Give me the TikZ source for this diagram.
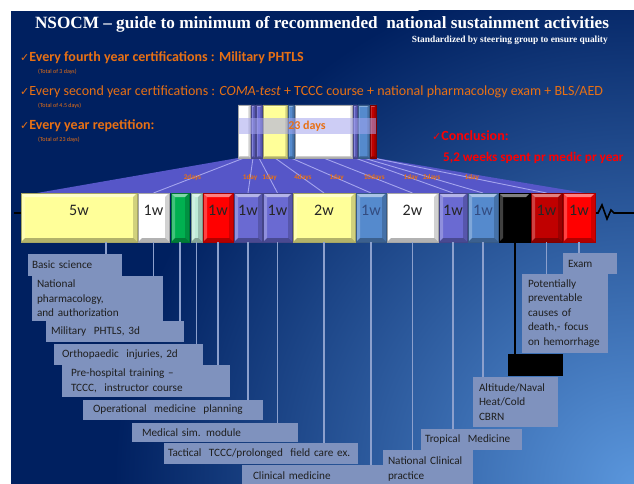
\documentclass[tikz,border=0pt]{standalone}
\usepackage{fontspec}
\setmainfont{Carlito}
\newfontfamily\headfont{Liberation Serif}
\newfontfamily\symfont{DejaVu Sans}
\usetikzlibrary{arrows.meta}

\definecolor{navy}{RGB}{0,32,96}
\definecolor{glow}{RGB}{90,150,220}
\definecolor{orangec}{RGB}{232,112,20}
\definecolor{redc}{RGB}{255,0,0}
\definecolor{byellow}{RGB}{255,255,153}
\definecolor{bgreen}{RGB}{0,176,80}
\definecolor{bmint}{RGB}{190,235,215}
\definecolor{bpurple}{RGB}{106,106,210}
\definecolor{bsteel}{RGB}{85,138,205}
\definecolor{bdred}{RGB}{192,0,0}
\definecolor{trapc}{RGB}{86,86,200}
\definecolor{rayc}{RGB}{165,165,238}
\definecolor{labc}{RGB}{127,146,190}
\definecolor{linec}{RGB}{140,160,205}

\pgfdeclarelayer{slide}
\pgfdeclarelayer{fan}
\pgfsetlayers{slide,fan,main}

\newcommand{\chk}{{\symfont\fontsize{11}{11}\selectfont ✓}}

\tikzset{
  bevel/.style={path picture={
    \path (path picture bounding box.north west) coordinate (bvNW)
          (path picture bounding box.north east) coordinate (bvNE)
          (path picture bounding box.south west) coordinate (bvSW)
          (path picture bounding box.south east) coordinate (bvSE);
    \fill[white,opacity=.5] (bvNW) -- (bvNE) -- ([shift={(-#1,-#1)}]bvNE) -- ([shift={(#1,-#1)}]bvNW) -- cycle;
    \fill[white,opacity=.25] (bvNW) -- (bvSW) -- ([shift={(#1,#1)}]bvSW) -- ([shift={(#1,-#1)}]bvNW) -- cycle;
    \fill[black,opacity=.3] (bvSW) -- (bvSE) -- ([shift={(-#1,#1)}]bvSE) -- ([shift={(#1,#1)}]bvSW) -- cycle;
    \fill[black,opacity=.18] (bvNE) -- (bvSE) -- ([shift={(-#1,#1)}]bvSE) -- ([shift={(-#1,-#1)}]bvNE) -- cycle;
  }},
  bevel/.default=4pt,
  wk/.style={draw=#1!65!black, line width=.6pt, fill=#1, bevel=4pt,
    minimum height=49pt, anchor=north west, inner sep=0pt, outer sep=0pt,
    text height=11pt, text depth=16pt, font=\fontsize{16}{16}\selectfont, text=black!85},
  mini/.style={draw=#1!65!black, line width=.4pt, fill=#1, bevel=1.6pt,
    minimum height=53pt, anchor=north west, inner sep=0pt, outer sep=0pt},
  lab/.style={fill=labc, anchor=north west, inner ysep=0pt, outer sep=0pt,
    align=left, font=\fontsize{11.2}{14.5}\selectfont, text=black!88},
  conn/.style={draw=linec, line width=1.4pt},
  ray/.style={draw=rayc, line width=.9pt},
  daylab/.style={font=\bfseries\fontsize{7.2}{8}\selectfont, text=orangec, inner sep=0pt},
  orline/.style={anchor=base west, text=orangec, font=\bfseries\fontsize{14}{14}\selectfont, inner sep=0pt},
  ornote/.style={anchor=base west, text=orangec, font=\fontsize{6}{6}\selectfont, inner sep=0pt},
  redline/.style={anchor=base west, text=redc, font=\bfseries\fontsize{14}{14}\selectfont, inner sep=0pt},
}

\begin{document}
\begin{tikzpicture}[x=1pt,y=-1pt]
\useasboundingbox (0,0) rectangle (634,484);

% slide background: navy with a lighter glow towards the lower right
\begin{pgfonlayer}{slide}
  \fill[white] (0,0) rectangle (634,484);
  \begin{scope}
    \clip (11,11) rectangle (634,484);
    \fill[navy] (11,11) rectangle (634,484);
    \shade[inner color=glow, outer color=navy] (634,484) circle (520pt);
  \end{scope}
\end{pgfonlayer}

% headings
\node[anchor=base, text=white, inner sep=0pt, font=\headfont\bfseries\fontsize{17.2}{17}\selectfont]
  (title) at (322,29) {NSOCM – guide to minimum of recommended\ \ national sustainment activities};
\node[anchor=base east, text=white, inner sep=0pt, font=\headfont\bfseries\fontsize{9.4}{9}\selectfont]
  (subtitle) at (608,43) {Standardized by steering group to ensure quality};

\node[orline] (c1) at (20,62) {\chk Every fourth year certifications : Military PHTLS};
\node[ornote] (n1) at (38,74) {(Total of 3 days)};
\node[orline, font=\fontsize{14}{14}\selectfont] (c2) at (20,96)
  {\chk Every second year certifications : \textit{COMA-test} + TCCC course + national pharmacology exam + BLS/AED};
\node[ornote] (n2) at (38,108) {(Total of 4.5 days)};
\node[orline] (c3) at (20,130) {\chk Every year repetition:};
\node[ornote] (n3) at (38,142) {(Total of 23 days)};

\node[redline] (c4) at (432,140) {\chk Conclusion:};
\node[redline, font=\bfseries\fontsize{13.2}{13}\selectfont] (c5) at (443,161) {5,2 weeks spent pr medic pr year};

% time axis behind the week boxes
\coordinate (axL) at (14,213);
\coordinate (axR) at (640,213);

% mini stack of the 23 yearly days
\node[mini=white,   minimum width=12pt] (m1) at (238,105) {};
\node[mini=bpurple, minimum width=4pt]  (m2) at (251,105) {};
\node[mini=bpurple, minimum width=6pt]  (m3) at (256,105) {};
\node[mini=byellow, minimum width=24pt] (m4) at (263,105) {};
\node[mini=bsteel,  minimum width=6pt]  (m5) at (288,105) {};
\node[mini=white,   minimum width=57pt] (m6) at (295,105) {};
\node[mini=bpurple, minimum width=4pt]  (m7) at (353,105) {};
\node[mini=bsteel,  minimum width=11pt] (m8) at (358,105) {};
\node[mini=bdred,   minimum width=6pt]  (m9) at (370,105) {};
\node[fill=rayc, fill opacity=.55, text opacity=1, minimum width=137pt, minimum height=15pt,
  inner sep=0pt, text=orangec, font=\bfseries\fontsize{12}{12}\selectfont] (dd) at (307,126) {23 days};

% week boxes
\node[wk=byellow, minimum width=116pt] (b1)  at (21,193)  {5w};
\node[wk=white,   minimum width=31pt]  (b2)  at (138,193) {1w};
\node[wk=bgreen,  minimum width=18pt]  (b3)  at (171,193) {};
\node[wk=bmint,   minimum width=11pt]  (b4)  at (191,193) {};
\node[wk=redc,    minimum width=30pt]  (b5)  at (203,193) {1w};
\node[wk=bpurple, minimum width=28pt]  (b6)  at (234,193) {1w};
\node[wk=bpurple, minimum width=29pt]  (b7)  at (263,193) {1w};
\node[wk=byellow, minimum width=62pt]  (b8)  at (293,193) {2w};
\node[wk=bsteel,  minimum width=30pt, text=navy!80]  (b9)  at (356,193) {1w};
\node[wk=white,   minimum width=51pt]  (b10) at (387,193) {2w};
\node[wk=bpurple, minimum width=28pt]  (b11) at (439,193) {1w};
\node[wk=bsteel,  minimum width=30pt, text=navy!80]  (b12) at (468,193) {1w};
\node[wk=black,   minimum width=31pt, text=black]    (b13) at (499,193) {1w};
\node[wk=bdred,   minimum width=31pt]  (b14) at (531,193) {1w};
\node[wk=redc,    minimum width=32pt]  (b15) at (563,193) {1w};

% fan from the mini stack down to the weeks, behind the boxes
\begin{pgfonlayer}{fan}
\fill[trapc] (m1.south west) -- (m9.south east) -- ([xshift=-10pt]b15.north east)
  -- ([xshift=16pt]b1.north west) -- cycle;
\draw[ray] (m1.south) -- node[daylab, pos=.57] (d1) {2days}  (b2.north);
\draw[ray] (m2.south) -- node[daylab, pos=.57] (d2) {1day}   (b6.north);
\draw[ray] (m3.south) -- node[daylab, pos=.57] (d3) {1day}   (b7.north);
\draw[ray] (m4.south) -- node[daylab, pos=.57] (d4) {4days}  (b8.north);
\draw[ray] (m5.south) -- node[daylab, pos=.57] (d5) {1day}   (b9.north);
\draw[ray] (m6.south) -- node[daylab, pos=.57] (d6) {10days} (b10.north);
\draw[ray] (m7.south) -- node[daylab, pos=.57] (d7) {1day}   (b11.north);
\draw[ray] (m8.south) -- node[daylab, pos=.57] (d8) {2days}  (b12.north);
\draw[ray] (m9.south) -- node[daylab, pos=.57] (d9) {1day}   (b14.north);
% axis ends with the break mark
\draw[line width=2pt] (axL) -- (b1.west |- axL);
\draw[line width=1.6pt, line join=miter, -{Straight Barb[length=4pt]}] (b15.east |- axR)
  -- ++(3,0) -- ++(4,-8) -- ++(5,14) -- ++(4,-9) -- ++(3,3) -- (axR);
\end{pgfonlayer}

% connectors to the topic labels
\draw[conn] ([xshift=27pt]b1.south) -- ([xshift=27pt]b1.south |- 0,254);
\foreach \b/\y in {b2/276,b3/321,b4/344,b5/365,b6/400,b7/423,b8/443,b9/465,b10/450,b11/429,b12/377,b14/274,b15/253}{
  \draw[conn] (\b.south) -- (\b.south |- 0,\y);
}
\draw[line width=2pt] (b13.south) -- (b13.south |- 0,354);

% topic labels
\node[lab, inner xsep=4pt,  text width=86pt,  minimum height=22pt] (L1)  at (28,254)  {Basic science};
\node[lab, inner xsep=5pt,  text width=121pt, minimum height=45pt] (L2)  at (32,276)  {National\\pharmacology,\\and authorization};
\node[lab, inner xsep=5pt,  text width=128pt, minimum height=21pt] (L3)  at (46,321)  {Military\ \ PHTLS, 3d};
\node[lab, inner xsep=8pt,  text width=133pt, minimum height=21pt] (L4)  at (54,344)  {Orthopaedic\ \ injuries, 2d};
\node[lab, inner xsep=9pt,  text width=150pt, minimum height=32pt] (L5)  at (62,365)  {Pre-hospital training –\\TCCC,\ \ instructor course};
\node[lab, inner xsep=10pt, text width=160pt, minimum height=20pt] (L6)  at (83,400)  {Operational\ \ medicine\ \ planning};
\node[lab, inner xsep=10pt, text width=146pt, minimum height=19pt] (L7)  at (132,423) {Medical sim. module};
\node[lab, inner xsep=4pt,  text width=186pt, minimum height=21pt] (L8)  at (164,443) {Tactical\ \ TCCC/prolonged\ \ field care ex.};
\node[lab, inner xsep=11pt, text width=121pt, minimum height=22pt] (L9)  at (242,465) {Clinical medicine};
\node[lab, inner xsep=5pt,  text width=80pt,  minimum height=38pt] (L10) at (383,450) {National Clinical\\practice};
\node[lab, inner xsep=4pt,  text width=93pt,  minimum height=21pt] (L11) at (421,429) {Tropical\ \ Medicine};
\node[lab, inner xsep=6pt,  text width=73pt,  minimum height=50pt] (L12) at (473,377) {Altitude/Naval\\Heat/Cold\\CBRN};
\node[fill=black, anchor=north west, minimum width=55pt, minimum height=22pt, inner sep=0pt] (LB) at (508,354) {};
\node[lab, inner xsep=6pt,  text width=74pt,  minimum height=79pt] (L13) at (522,274) {Potentially\\preventable\\causes of\\death,- focus\\on hemorrhage};
\node[lab, inner xsep=5pt,  text width=44pt,  minimum height=21pt] (L14) at (563,253) {Exam};
\end{tikzpicture}
\end{document}
